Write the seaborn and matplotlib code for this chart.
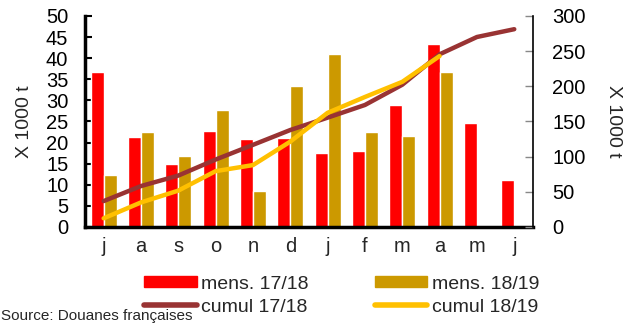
import numpy as np
import pandas as pd
import matplotlib
matplotlib.use("Agg")
import matplotlib.pyplot as plt
import seaborn as sns
from matplotlib.patches import Patch
from matplotlib.lines import Line2D

# Données
mois = ["j", "a", "s", "o", "n", "d", "j", "f", "m", "a", "m", "j"]
mens_1718 = [36.7, 21.4, 14.9, 22.8, 20.9, 21.1, 17.6, 18.0, 28.8, 43.3, 24.6, 11.1]
mens_1819 = [12.2, 22.6, 16.8, 27.7, 8.6, 33.4, 41.0, 22.5, 21.5, 36.7, np.nan, np.nan]
cumul_1718 = [36.7, 58.1, 73.0, 95.8, 116.7, 137.8, 155.4, 173.4, 202.2, 245.5, 270.1, 281.2]
cumul_1819 = [12.2, 34.8, 51.6, 79.3, 87.9, 121.3, 162.3, 184.8, 206.3, 243.0, np.nan, np.nan]

ROUGE, OR, BRUN, JAUNE = "#FF0000", "#CC9900", "#993333", "#FFC000"

sns.set_theme(style="white")
plt.rcParams["font.family"] = ["Liberation Sans", "DejaVu Sans"]

idx = [str(i) for i in range(len(mois))]
df_bar = pd.DataFrame({
    "pos": idx * 2,
    "val": mens_1718 + mens_1819,
    "serie": ["mens. 17/18"] * 12 + ["mens. 18/19"] * 12,
})
df_cum = pd.DataFrame({
    "pos": list(range(12)) * 2,
    "val": cumul_1718 + cumul_1819,
    "serie": ["cumul 17/18"] * 12 + ["cumul 18/19"] * 12,
})

fig = plt.figure(figsize=(6.39, 3.26), dpi=100)
ax = fig.add_axes([0.133, 0.304, 0.701, 0.647])
sns.barplot(data=df_bar, x="pos", y="val", hue="serie", order=idx,
            palette=[ROUGE, OR], width=0.7, ax=ax, legend=False, saturation=1)
ax.set_ylim(0, 50)
ax.set_yticks(range(0, 51, 5))
ax.set_xlim(-0.5, 11.5)
ax.set_xticks(range(12))
ax.set_xticklabels(mois)
ax.set_xlabel("")
ax.set_ylabel("X 1000 t", fontsize=14, labelpad=9)

ax2 = ax.twinx()
sns.lineplot(data=df_cum, x="pos", y="val", hue="serie",
             palette=[BRUN, JAUNE], linewidth=3.2, ax=ax2, legend=False)
ax2.set_ylim(0, 300)
ax2.set_yticks(range(0, 301, 50))
ax2.set_xlim(-0.5, 11.5)
ax2.set_xlabel("")
ax2.set_ylabel("X 1000 t", fontsize=14, rotation=270, labelpad=26)

for a in (ax, ax2):
    a.spines["top"].set_visible(False)
ax.spines["left"].set_linewidth(2.5)
ax.spines["bottom"].set_linewidth(2.5)
ax.spines["left"].set_color("black")
ax.spines["bottom"].set_color("black")
ax.spines["right"].set_visible(False)
ax2.spines["left"].set_visible(False)
ax2.spines["bottom"].set_visible(False)
ax2.spines["right"].set_color("black")
ax2.spines["right"].set_linewidth(1.2)

ax.tick_params(axis="y", direction="in", length=5, width=1.5, colors="black",
               labelsize=14.5, pad=12, left=True)
ax.tick_params(axis="x", length=0, labelsize=14.5, pad=7)
ax2.tick_params(axis="y", direction="in", length=6, width=1.0, color="#888888",
                labelcolor="black", labelsize=14.5, pad=14, right=True)

handles = [
    Patch(color=ROUGE, label="mens. 17/18"),
    Line2D([], [], color=BRUN, lw=4, solid_capstyle="round", label="cumul 17/18"),
    Patch(color=OR, label="mens. 18/19"),
    Line2D([], [], color=JAUNE, lw=4, solid_capstyle="round", label="cumul 18/19"),
]
fig.legend(handles=handles, ncol=2, loc="upper center", bbox_to_anchor=(0.535, 0.184),
           frameon=False, fontsize=14, handlelength=2.7, handleheight=0.5,
           handletextpad=0.25, columnspacing=3.4, labelspacing=0.3, borderpad=0)

fig.text(0.002, 0.008, "Source: Douanes françaises", fontsize=11, ha="left", va="bottom")

fig.savefig("out.png", dpi=100)
